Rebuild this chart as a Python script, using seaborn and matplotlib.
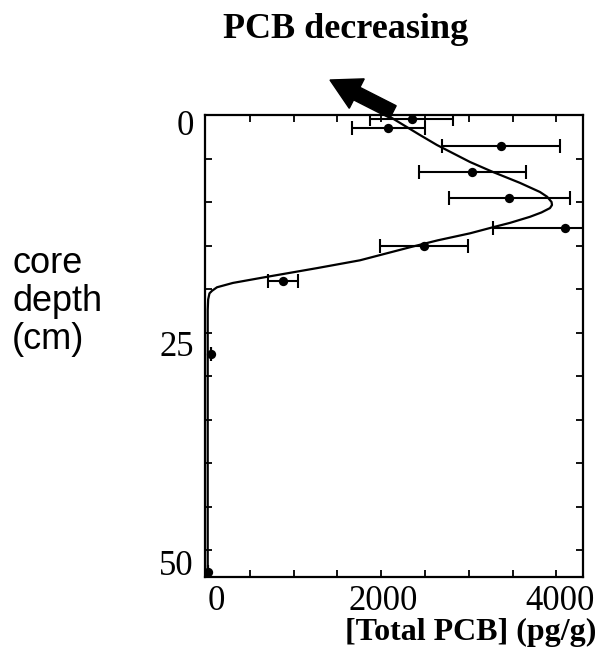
import numpy as np
import pandas as pd
import matplotlib
matplotlib.use("Agg")
import matplotlib.pyplot as plt
from matplotlib.patches import FancyArrow
import seaborn as sns

# ---- data ----
depth = [0.46, 1.5, 3.6, 6.6, 9.5, 13.0, 15.1, 19.1, 27.5, 52.5]
pcb = [2350, 2080, 3370, 3040, 3460, 4100, 2490, 880, 55, 20]
pcb_err = [475, 415, 670, 610, 690, 820, 500, 175, 0, 0]

curve_depth = [0.0, 2.3, 3.45, 5.4, 6.55, 7.8, 8.85, 9.4, 10.0, 10.35, 10.7, 11.2, 11.7,
               12.4, 12.9, 13.6, 14.4, 15.2, 15.5, 16.7, 17.6, 18.6, 19.3, 19.8,
               20.2, 20.5, 21.2, 22.4, 53.1]
curve_pcb = [2066, 2443, 2637, 3014, 3276, 3584, 3813, 3895, 3945, 3950, 3927, 3830, 3699,
             3470, 3276, 3014, 2648, 2329, 2215, 1758, 1267, 696, 308, 126,
             70, 40, 25, 20, 20]

x_tick_pos = [114, 2020, 4040]
x_tick_labels = ["0", "2000", "4000"]
y_tick_pos = [0.86, 26.3, 51.4]
y_tick_labels = ["0", "25", "50"]

title = "PCB decreasing"
xlabel = "[Total PCB] (pg/g)"
ylabel_lines = ["core", "depth", "(cm)"]

# ---- figure ----
sns.set_style("white")
plt.rcParams["font.family"] = ["Liberation Serif", "DejaVu Serif"]
plt.rcParams["text.color"] = "black"
plt.rcParams["xtick.color"] = "black"
plt.rcParams["ytick.color"] = "black"
plt.rcParams["axes.labelcolor"] = "black"

fig = plt.figure(figsize=(6.04, 6.53), dpi=100)
ax = fig.add_axes([205 / 604, 1 - 577 / 653, (583 - 205) / 604, (577 - 115) / 653])

curve = pd.DataFrame({"pcb": curve_pcb, "depth": curve_depth})
sns.lineplot(data=curve, x="pcb", y="depth", sort=False, estimator=None,
             color="black", linewidth=1.6, ax=ax)

ax.errorbar(pcb, depth, xerr=pcb_err, fmt="none", ecolor="black",
            elinewidth=1.5, capsize=5, capthick=1.5)
pts = pd.DataFrame({"pcb": pcb, "depth": depth})
sns.scatterplot(data=pts, x="pcb", y="depth", color="black", s=45,
                edgecolor="black", linewidth=0, ax=ax, zorder=5)

ax.set_xlim(-11, 4304)
ax.set_ylim(53.1, 0)

ax.set_xticks(x_tick_pos)
ax.set_xticklabels(x_tick_labels)
ax.set_yticks(y_tick_pos)
ax.set_yticklabels(y_tick_labels)
ax.set_xticks(np.arange(500, 4001, 500), minor=True)
ax.set_yticks(np.arange(5, 51, 5), minor=True)

ax.tick_params(axis="both", which="major", length=0, labelsize=25, labelcolor="black")
ax.tick_params(axis="x", which="major", pad=6)
ax.tick_params(axis="y", which="major", pad=8)
ax.tick_params(axis="both", which="minor", direction="in", length=5, width=1.3,
               top=True, right=True, bottom=True, left=True, color="black")
for lab in ax.get_xticklabels() + ax.get_yticklabels():
    lab.set_family(["Liberation Serif", "DejaVu Serif"])

for sp in ax.spines.values():
    sp.set_visible(True)
    sp.set_color("black")
    sp.set_linewidth(1.6)

ax.set_xlabel("")
ax.set_ylabel("")

# title and labels
fig.text(346 / 604, 1 - 38 / 653, title, ha="center", va="baseline", color="black",
         fontsize=26, fontweight="bold", family=["Liberation Serif", "DejaVu Serif"])
fig.text(596 / 604, 1 - 640 / 653, xlabel, ha="right", va="baseline", color="black",
         fontsize=23, fontweight="bold", family=["Liberation Serif", "DejaVu Serif"])
for i, line in enumerate(ylabel_lines):
    fig.text(12 / 604, 1 - (273 + 38 * i) / 653, line, ha="left", va="baseline",
             color="black", fontsize=26, family=["Liberation Sans", "DejaVu Sans"])

# arrow (PCB decreasing direction)
arrow = FancyArrow(3.93, 6.53 - 1.12, -0.63, 0.32, width=0.14, head_width=0.33,
                   head_length=0.30, length_includes_head=True,
                   transform=fig.dpi_scale_trans, color="black", zorder=10)
fig.patches.append(arrow)

fig.savefig("out.png", dpi=100)
